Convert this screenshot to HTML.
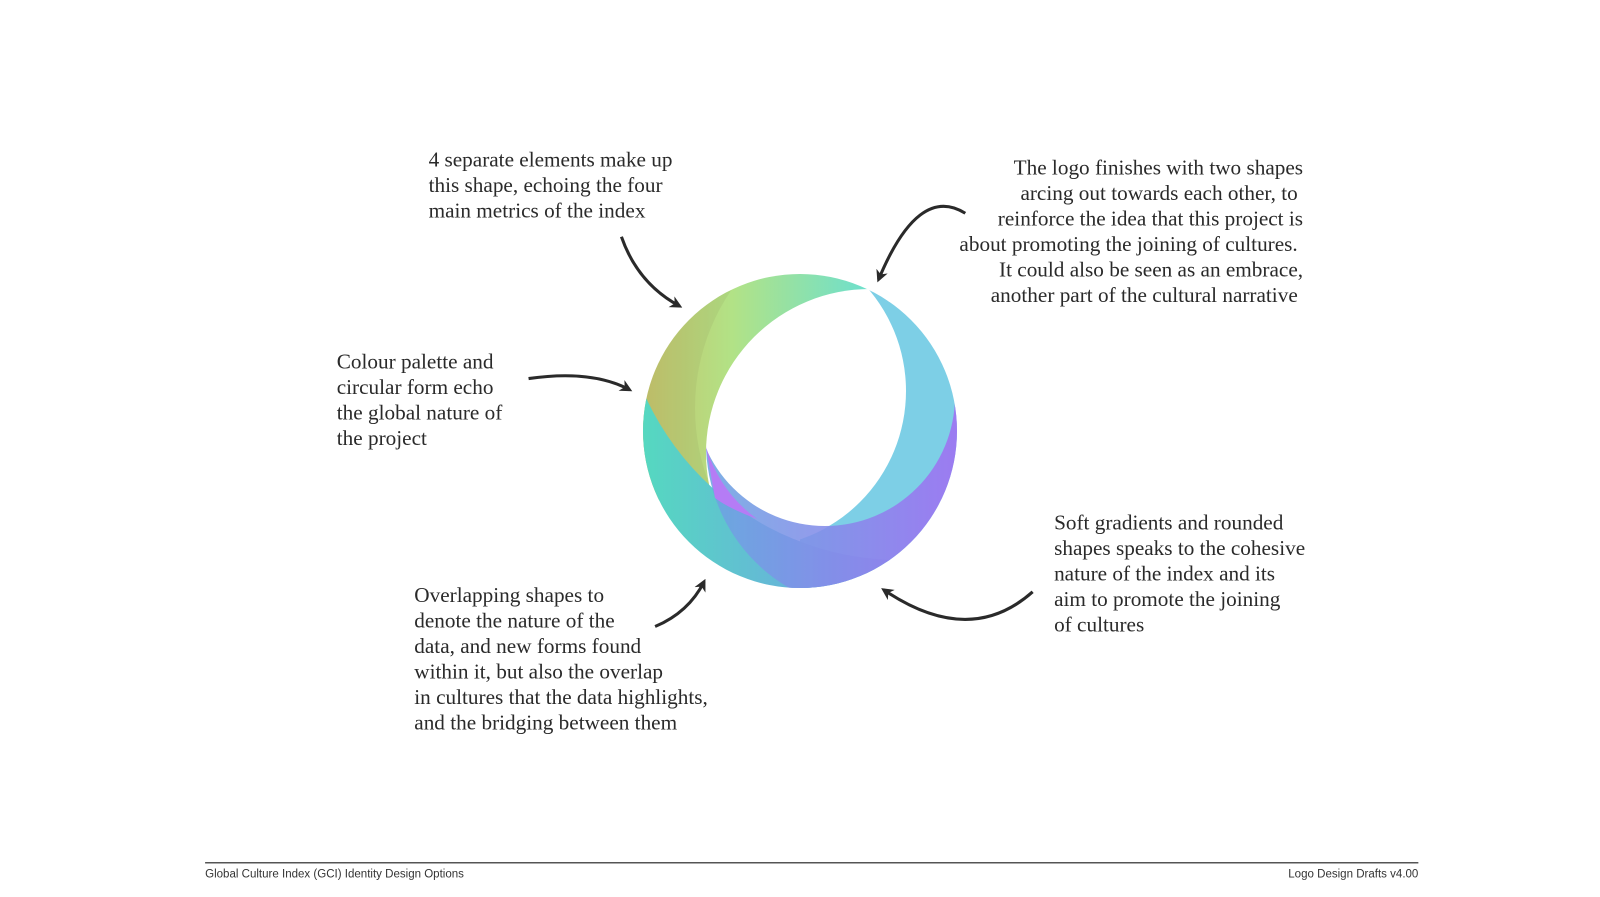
<!DOCTYPE html>
<html><head><meta charset="utf-8"><style>
html,body{margin:0;padding:0;background:#fff;}
body{width:1600px;height:897px;position:relative;overflow:hidden;}
#c{position:absolute;left:0;top:0;width:1568px;height:879px;transform:scale(1.0204);transform-origin:0 0;}
.t{position:absolute;font-family:"Liberation Serif",serif;font-size:20.8px;line-height:25px;color:#2a2a2a;white-space:nowrap;}
.r{text-align:right;width:420px;}
.f{position:absolute;font-family:"Liberation Sans",sans-serif;font-size:11.3px;color:#333;top:851px;}
</style></head><body>
<div id="c">
<svg width="1568" height="879" style="position:absolute;left:0;top:0">
<defs>
<marker id="ah" markerWidth="12" markerHeight="12" refX="9" refY="6" orient="auto" markerUnits="userSpaceOnUse"><path d="M0,0 L12,6 L0,12 L3.5,6 Z" fill="#2a2a2a"/></marker>
</defs>
<g fill="none" stroke="#2a2a2a" stroke-width="3" marker-end="url(#ah)">
<path d="M609,232 Q625,278 666,300"/>
<path d="M946,209 Q900,180 861,274"/>
<path d="M518,371 Q580,362 617,382"/>
<path d="M642,614 Q675,600 690,570"/>
<path d="M1012,580 Q950,635 866,578"/>
</g>
<line x1="201" y1="845.5" x2="1390" y2="845.5" stroke="#555" stroke-width="1.5"/>
</svg>
<div class="t" style="left:420px;top:144px">4 separate elements make up<br>this shape, echoing the four<br>main metrics of the index</div>
<div class="t r" style="left:857px;top:152px">The logo finishes with two shapes<br>arcing out towards each other, to&nbsp;<br>reinforce the idea that this project is<br>about promoting the joining of cultures.&nbsp;<br>It could also be seen as an embrace,<br>another part of the cultural narrative&nbsp;</div>
<div class="t" style="left:330px;top:342px">Colour palette and<br>circular form echo<br>the global nature of<br>the project</div>
<div class="t" style="left:1033px;top:500px">Soft gradients and rounded<br>shapes speaks to the cohesive<br>nature of the index and its<br>aim to promote the joining<br>of cultures</div>
<div class="t" style="left:406px;top:571px">Overlapping shapes to<br>denote the nature of the<br>data, and new forms found<br>within it, but also the overlap<br>in cultures that the data highlights,<br>and the bridging between them</div>
<div class="f" style="left:201px">Global Culture Index (GCI) Identity Design Options</div>
<div class="f" style="left:1190px;width:200px;text-align:right">Logo Design Drafts v4.00</div>
</div>
<svg width="1600" height="897" style="position:absolute;left:0;top:0">
<defs>
<linearGradient id="gG" x1="643" x2="866" y1="0" y2="0" gradientUnits="userSpaceOnUse"><stop offset="0" stop-color="#c6c46c"/><stop offset="0.4" stop-color="#b2e286"/><stop offset="1" stop-color="#6ee0cc"/></linearGradient>
<linearGradient id="gT" x1="643" x2="820" y1="0" y2="0" gradientUnits="userSpaceOnUse"><stop offset="0" stop-color="#55d8c0"/><stop offset="1" stop-color="#6aaede"/></linearGradient>
<linearGradient id="gP" x1="700" x2="957" y1="0" y2="0" gradientUnits="userSpaceOnUse"><stop offset="0" stop-color="#6aa6e0"/><stop offset="1" stop-color="#a070f2"/></linearGradient>
<clipPath id="O"><circle cx="800" cy="431" r="157"/></clipPath>
<clipPath id="Q"><circle cx="874" cy="443" r="168"/></clipPath>
<mask id="mG"><rect width="1600" height="897" fill="#fff"/><circle cx="870" cy="453" r="164" fill="#000"/></mask>
<mask id="mB"><rect width="1600" height="897" fill="#fff"/><circle cx="905" cy="408" r="210" fill="#000"/></mask>
<mask id="mC"><rect width="1600" height="897" fill="#fff"/><circle cx="749" cy="391" r="157" fill="#000"/></mask>
<mask id="mP"><rect width="1600" height="897" fill="#fff"/><circle cx="825" cy="396" r="130" fill="#000"/></mask>
<mask id="mT"><rect width="1600" height="897" fill="#fff"/><circle cx="900" cy="280" r="280" fill="#000"/></mask>
</defs>
<g clip-path="url(#O)">
<g mask="url(#mC)"><rect x="800" y="250" width="200" height="360" fill="#7dcfe6"/></g>
<g mask="url(#mG)"><path d="M620,250 L870,250 L870,290 L715,500 L620,500Z" fill="url(#gG)"/></g>
<g mask="url(#mG)"><g mask="url(#mB)"><path d="M620,250 L870,250 L870,290 L715,500 L620,500Z" fill="#7a7a40" opacity="0.1"/></g></g>
<g mask="url(#mT)"><rect x="620" y="380" width="320" height="230" fill="url(#gT)"/></g>
<g clip-path="url(#Q)"><g mask="url(#mP)"><rect x="640" y="380" width="330" height="230" fill="url(#gP)" opacity="0.88"/></g></g>
<path d="M706,447 Q720,492 757,519 Q728,508 715,498 Z" fill="#b57cf5"/>
</g>
</svg>
</body></html>
